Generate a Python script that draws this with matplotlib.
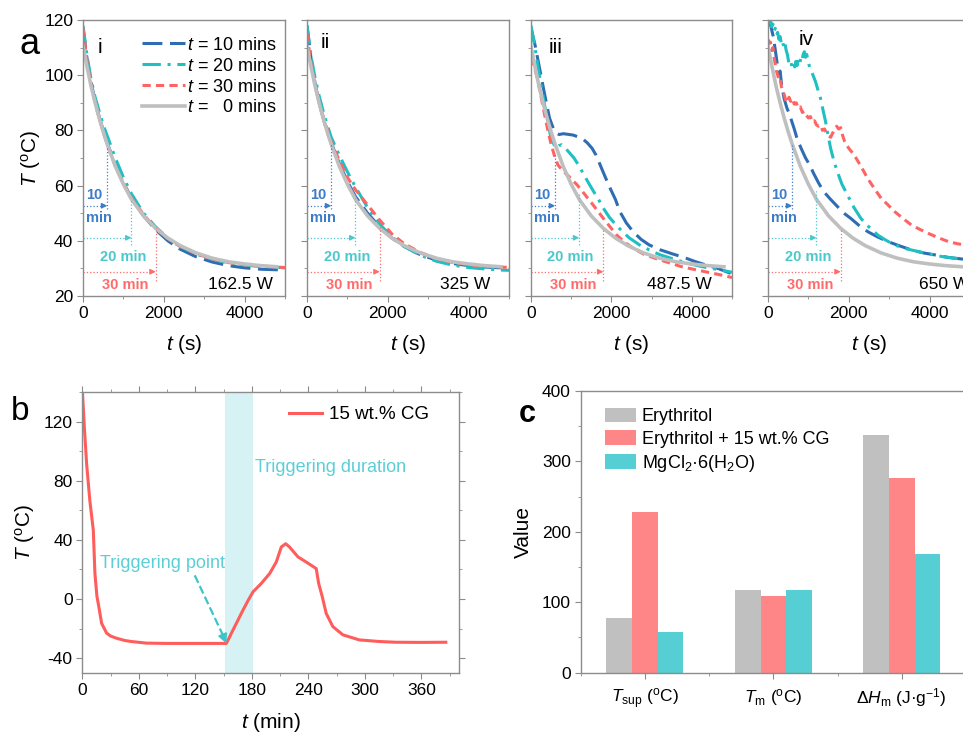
import matplotlib
matplotlib.use("Agg")
import matplotlib.pyplot as plt
from matplotlib.ticker import MultipleLocator
from matplotlib.lines import Line2D

plt.rcParams['font.family'] = ['Liberation Sans', 'DejaVu Sans']
plt.rcParams['mathtext.fontset'] = 'custom'
plt.rcParams['mathtext.rm'] = 'Liberation Sans'
plt.rcParams['mathtext.it'] = 'Liberation Sans:italic'
plt.rcParams['mathtext.bf'] = 'Liberation Sans:bold'
plt.rcParams['axes.unicode_minus'] = False

# ===== colours =====
BLUE = '#2f6db3'
CYAN = '#1fbfc2'
RED = '#ff6464'
GREY = '#bfbfbf'
FRAME = '#8c8c8c'
TXT_BLUE = '#3d7cc9'
TXT_CYAN = '#4cc8cc'
TXT_RED = '#ff6b6b'

# ===== (a) cooling curves, t in s, T in degC =====
grey_t = [0, 100, 200, 300, 400, 500, 600, 800, 1000, 1200, 1500, 1800, 2100, 2400, 2800, 3200, 3600, 4000, 4400, 4800]
grey_T = [110.5, 103, 96, 90, 84.5, 79.5, 75, 67, 60.5, 55, 49, 44.5, 41, 38.3, 35.6, 33.7, 32.4, 31.6, 31, 30.6]

grid_t = [0, 100, 200, 300, 400, 500, 600, 800, 1000, 1200, 1500, 1800, 2100, 2400, 2800, 3200, 3600, 4000, 4400, 4800, 5000]

blue_i = [117, 106, 97.5, 90.5, 85, 80, 75.5, 67.5, 61, 55.5, 49, 44, 40, 37, 34.2, 32.3, 31, 30.2, 29.7, 29.5, 29.5]
cyan_i = [118, 107, 98.5, 92, 87, 82, 78, 70, 63, 57, 50, 45, 41, 38, 35.2, 33.3, 32, 31.2, 30.7, 30.4, 30.2]
red_i = [117, 105, 96.5, 90, 84.5, 79.5, 75, 67, 61, 55.5, 49.5, 44.5, 40.8, 38, 35.3, 33.4, 32.1, 31.3, 30.8, 30.5, 30.3]

blue_ii = [118, 106, 97, 90, 84.5, 79.5, 75.5, 68, 61.5, 56, 50, 45, 41, 38, 35, 33, 31.8, 31, 30.5, 30.2, 30]
cyan_ii = [118, 107, 99, 92.5, 87, 82, 77.5, 71, 65, 59.5, 52, 46, 41.5, 38, 34.8, 32.6, 31.2, 30.3, 29.8, 29.4, 29.3]
red_ii = [115, 104, 96.5, 90, 85, 80.5, 76, 69, 63, 58.5, 53, 47.5, 42.5, 39, 35.8, 33.6, 32.2, 31.3, 30.8, 30.5, 30.3]

blue_iii_t = [0, 100, 180, 260, 340, 460, 560, 630, 700, 800, 910, 1050, 1200, 1280, 1400, 1520, 1620, 1720, 1850, 1970, 2100,
              2210, 2370, 2540, 2740, 2940, 3200, 3510, 3800, 4080, 4400, 4650, 5000]
blue_iii = [117, 111, 105, 99, 93, 84.5, 80.5, 79, 78.5, 78.8, 78.6, 78.3, 77.5, 77, 75.5, 73.5, 71, 67.5, 63, 59, 55,
            50.6, 46.5, 43.3, 40.5, 38.5, 36.8, 35.3, 34, 32.5, 31, 30, 28]
cyan_iii_t = [0, 100, 180, 340, 500, 620, 700, 760, 830, 950, 1070, 1200, 1320, 1450, 1560, 1700, 1800, 1950, 2130, 2300,
              2450, 2700, 2940, 3200, 3500, 3800, 4080, 4400, 4730, 5000]
cyan_iii = [118, 110, 102.5, 89, 77, 73.5, 74.5, 74.8, 74, 72, 70, 67, 63.8, 60.5, 57.8, 54.5, 51.8, 48.5, 45.5, 43,
            41, 38.5, 36.7, 35, 33.6, 32.3, 31.2, 30.2, 29.4, 28.6]
red_iii_t = [0, 100, 180, 260, 340, 420, 500, 580, 670, 780, 910, 1030, 1150, 1300, 1480, 1650, 1800, 1970, 2130, 2330,
             2540, 2800, 3100, 3400, 3750, 4100, 4400, 4700, 5000]
red_iii = [106.5, 102, 97.7, 91.5, 85.6, 80, 75, 71, 67.5, 65.5, 63.8, 62, 60.2, 57.5, 54.2, 51, 48.1, 45, 42.1, 39.5,
           37.3, 35.2, 33.6, 32.2, 30.6, 29.5, 28.6, 27.7, 26.7]

blue_iv_t = [0, 50, 90, 130, 175, 220, 260, 300, 340, 400, 470, 530, 590, 650, 720, 820, 930, 1030, 1130, 1250, 1380,
             1550, 1720, 1880, 2050, 2250, 2470, 2700, 2970, 3250, 3550, 3850, 4130, 4450, 4800, 5000]
blue_iv = [121, 119, 116.5, 114, 109.7, 105, 100.5, 101.5, 96, 91.5, 88, 86, 83.2, 80.5, 77, 73.5, 70, 67.5, 64.4, 61, 57.8,
           55, 52.4, 50, 48.1, 45.6, 43.3, 41.5, 39.7, 38.2, 36.7, 35.6, 34.9, 34, 33.4, 33.1]
cyan_iv_t = [0, 30, 60, 90, 120, 150, 180, 210, 240, 270, 300, 330, 360, 390, 420, 450, 480, 510, 540, 570, 600, 630,
             660, 690, 720, 750, 780, 810, 840, 870, 900, 930, 960, 990, 1020, 1050, 1100, 1175, 1250, 1300, 1360, 1425,
             1490, 1550, 1630, 1717, 1830, 1967, 2130, 2300, 2500, 2717, 2920, 3133, 3400, 3717, 4000, 4300, 4600, 4800, 5000]
cyan_iv = [120.5, 119, 120, 117.5, 118.5, 116, 117, 114.5, 115.5, 113, 114, 111.5, 112.5, 110, 111.5, 109, 107.5, 105,
           103.5, 104.5, 102.5, 104, 103, 105, 103.5, 105.5, 104, 106, 105, 107.5, 108.5, 106.5, 107.5, 105, 103.5, 102,
           100.5, 97.7, 94, 91.6, 87.5, 83.2, 78, 73.5, 69, 65, 60.5, 56.6, 52, 48.1, 45, 42.1, 40.2, 38.5, 37.2, 36.1,
           35.2, 34.3, 33.7, 33.4, 33.2]
red_iv_t = [0, 30, 60, 90, 120, 150, 180, 210, 240, 270, 300, 330, 360, 400, 440, 480, 520, 560, 600, 650, 700, 750, 800,
            850, 900, 950, 1000, 1050, 1100, 1150, 1200, 1250, 1300, 1350, 1400, 1450, 1500, 1550, 1600, 1650, 1700, 1750,
            1800, 1850, 1900, 2000, 2133, 2300, 2467, 2630, 2800, 2970, 3133, 3350, 3550, 3750, 3967, 4200, 4467, 4700,
            4883, 5000]
red_iv = [113, 111.5, 112, 109, 110, 106.5, 104, 101.5, 100, 98.5, 99, 96, 94.5, 93, 91, 90, 92, 90.5, 91.5, 89.5, 90, 88,
          88.5, 86.5, 87, 85.5, 84.5, 85, 83, 83.5, 82, 81.5, 82, 80, 80.5, 79, 78, 77.5, 79, 80.5, 81.5, 80.5, 81, 78,
          75.9, 73.5, 71.1, 67, 62.6, 59, 55.4, 53, 50.6, 48, 45.7, 44.2, 42.7, 41.2, 39.7, 38.9, 38.5, 38.2]

romans = ['i', 'ii', 'iii', 'iv']
powers = ['162.5 W', '325 W', '487.5 W', '650 W']
mark_min = [10, 20, 30]
mark_tops = [[74, 54.8, 45.1], [75.4, 55.5, 45.2], [71, 57.8, 44.5], [74.7, 58.4, 44.5]]
mark_bottoms = [51.5, 38.3, 25.5]
arrow_T = [52.7, 41.1, 28.8]

# ===== (b) 15 wt.% CG cooling / triggering, t in min =====
b_t = [0, 2, 4.6, 8, 11.7, 13.4, 15.5, 17.5, 20.5, 25.8, 30, 36.4, 45, 52, 68, 90, 120, 140, 153, 158, 163.6, 170.7,
       176, 181.3, 190, 199, 206, 211.3, 216, 220, 229, 237.8, 248.4, 251, 254.8, 259, 266, 276.7, 294, 315, 333, 360, 386]
b_T = [142, 118, 91.3, 66.6, 46.4, 17.3, 2, -5, -16.4, -23, -25, -26.5, -28, -28.7, -29.8, -30, -30, -30, -30, -23.5,
       -16.4, -7.4, -1, 4.9, 10.5, 17.3, 25.1, 35.2, 37.4, 35.2, 28.5, 25, 20.6, 10.5, 1.6, -9.7, -18.6, -24.2, -27.6,
       -28.7, -29.2, -29.3, -29.2]
trigger_start, trigger_end = 152, 181
trigger_t, trigger_T = 153, -30

# ===== (c) property comparison =====
props = [r'$T_\mathrm{sup}$ ($^\mathrm{o}$C)', r'$T_\mathrm{m}$ ($^\mathrm{o}$C)', r'Δ$H_\mathrm{m}$ (J·g$^{-1}$)']
materials = ['Erythritol', 'Erythritol + 15 wt.% CG', r'MgCl$_2$·6(H$_2$O)']
erythritol = [78, 118, 337]
erythritol_cg = [228, 109, 277]
mgcl2 = [58, 118, 168]
bar_colors = ['#c0c0c0', '#ff8686', '#56cfd4']

W, H = 963, 735
fig = plt.figure(figsize=(W / 100, H / 100), dpi=100)


def px_axes(left, top, right, bottom):
    return fig.add_axes([left / W, 1 - bottom / H, (right - left) / W, (bottom - top) / H])


def style_frame(ax):
    for s in ax.spines.values():
        s.set_color(FRAME)
        s.set_linewidth(1.0)
    ax.tick_params(which='both', direction='out', color=FRAME, labelsize=12.5, pad=3)
    ax.tick_params(which='major', length=4)
    ax.tick_params(which='minor', length=2.5)


# ---------- panel a ----------
a_boxes = [(83, 285), (307, 509), (531, 732), (768, 970)]
curves = [
    ((grid_t, blue_i), (grid_t, cyan_i), (grid_t, red_i)),
    ((grid_t, blue_ii), (grid_t, cyan_ii), (grid_t, red_ii)),
    ((blue_iii_t, blue_iii), (cyan_iii_t, cyan_iii), (red_iii_t, red_iii)),
    ((blue_iv_t, blue_iv), (cyan_iv_t, cyan_iv), (red_iv_t, red_iv)),
]
roman_xy = [(0.084, 0.902), (0.089, 0.917), (0.12, 0.902), (0.19, 0.928)]
power_x = [0.94, 0.905, 0.9, 0.995]

blue_kw = dict(color=BLUE, lw=2.2, dashes=(6.5, 2.5))
cyan_kw = dict(color=CYAN, lw=2.2, dashes=(6, 2.2, 1, 2.2))
red_kw = dict(color=RED, lw=2.2, dashes=(2.7, 1.7))
grey_kw = dict(color=GREY, lw=2.6)

for k, (l, r) in enumerate(a_boxes):
    ax = px_axes(l, 20, r, 296)
    (bt, bT), (ct, cT), (rt, rT) = curves[k]
    ax.plot(bt, bT, **blue_kw)
    ax.plot(ct, cT, **cyan_kw)
    ax.plot(rt, rT, **red_kw)
    ax.plot(grey_t, grey_T, **grey_kw)

    # elapsed-time markers
    for j, c in enumerate([TXT_BLUE, TXT_CYAN, TXT_RED]):
        tm = mark_min[j] * 60
        ax.plot([tm, tm], [mark_bottoms[j], mark_tops[k][j]], ls=':', lw=0.9, color=c)
        ax.plot([0, tm - 60], [arrow_T[j], arrow_T[j]], ls=':', lw=0.9, color=c)
        ax.annotate('', xy=(tm, arrow_T[j]), xytext=(tm - 120, arrow_T[j]),
                    arrowprops=dict(arrowstyle='-|>', color=c, lw=0.9, mutation_scale=8,
                                    shrinkA=0, shrinkB=0))
    ax.text(290, 56.5, '10', color=TXT_BLUE, fontsize=10.5, fontweight='bold', ha='center', va='center')
    ax.text(390, 48.3, 'min', color=TXT_BLUE, fontsize=10.5, fontweight='bold', ha='center', va='center')
    ax.text(985, 34.3, '20 min', color=TXT_CYAN, fontsize=10.5, fontweight='bold', ha='center', va='center')
    ax.text(1050, 24, '30 min', color=TXT_RED, fontsize=10.5, fontweight='bold', ha='center', va='center')

    ax.text(*roman_xy[k], romans[k], transform=ax.transAxes, fontsize=15, ha='center', va='center')
    ax.text(power_x[k], 0.025, powers[k], transform=ax.transAxes, fontsize=12.5, ha='right', va='baseline')

    ax.set_xlim(0, 5000)
    ax.set_ylim(20, 120)
    ax.xaxis.set_major_locator(MultipleLocator(2000))
    ax.xaxis.set_minor_locator(MultipleLocator(1000))
    ax.yaxis.set_major_locator(MultipleLocator(20))
    ax.yaxis.set_minor_locator(MultipleLocator(10))
    style_frame(ax)
    ax.set_xlabel(r'$t$ (s)', fontsize=15)
    ax.xaxis.set_label_coords(0.5, -0.135)
    if k == 0:
        ax.set_ylabel(r'$T$ ($^\mathrm{o}$C)', fontsize=15)
        ax.yaxis.set_label_coords(-0.2, 0.5)
        handles = [Line2D([], [], **blue_kw), Line2D([], [], **cyan_kw),
                   Line2D([], [], **red_kw), Line2D([], [], **grey_kw)]
        labels = [r'$t$ = 10 mins', r'$t$ = 20 mins', r'$t$ = 30 mins', r'$t$ =   0 mins']
        ax.legend(handles, labels, loc='upper right', frameon=False, fontsize=13,
                  handlelength=2.4, handletextpad=0.1, labelspacing=0.22,
                  borderaxespad=0, borderpad=0, bbox_to_anchor=(0.96, 0.94))
    else:
        ax.tick_params(labelleft=False)

fig.text(30 / W, 1 - 45 / H, 'a', fontsize=26, ha='center', va='center')

# ---------- panel b ----------
axb = px_axes(82.3, 392, 459, 673)
axb.axvspan(trigger_start, trigger_end, color='#d7f2f5', lw=0)
axb.plot(b_t, b_T, color='#ff5c5c', lw=2.2, label='15 wt.% CG')
axb.plot([119.4, trigger_t - 4], [16, trigger_T + 6], ls='--', lw=1.6, color='#3cc4ca')
axb.annotate('', xy=(trigger_t, trigger_T), xytext=(trigger_t - 4, trigger_T + 6),
             arrowprops=dict(arrowstyle='-|>', color='#3cc4ca', lw=1.2, mutation_scale=14,
                             shrinkA=0, shrinkB=0))
axb.text(19, 24, 'Triggering point', color='#5ccfd6', fontsize=13, ha='left', va='center')
axb.text(183, 89, 'Triggering duration', color='#5ccfd6', fontsize=13, ha='left', va='center')
axb.set_xlim(0, 400)
axb.set_ylim(-50, 140)
axb.xaxis.set_major_locator(MultipleLocator(60))
axb.xaxis.set_minor_locator(MultipleLocator(30))
axb.yaxis.set_major_locator(MultipleLocator(40))
axb.yaxis.set_minor_locator(MultipleLocator(20))
style_frame(axb)
axb.tick_params(which='both', top=True, right=True)
axb.set_xlabel(r'$t$ (min)', fontsize=15)
axb.xaxis.set_label_coords(0.5, -0.135)
axb.set_ylabel(r'$T$ ($^\mathrm{o}$C)', fontsize=15)
axb.yaxis.set_label_coords(-0.12, 0.5)
axb.legend(loc='upper right', frameon=False, fontsize=13.5, handlelength=1.8,
           handletextpad=0.35, borderaxespad=0, borderpad=0, bbox_to_anchor=(0.92, 0.95))
fig.text(20 / W, 1 - 412 / H, 'b', fontsize=24, ha='center', va='center')

# ---------- panel c ----------
axc = px_axes(580.7, 391, 966, 672.7)
x = range(len(props))
bw = 0.2
for i, (vals, lab) in enumerate(zip([erythritol, erythritol_cg, mgcl2], materials)):
    axc.bar([p + (i - 1) * bw for p in x], vals, width=bw, color=bar_colors[i], label=lab)
axc.set_xlim(-0.5, 2.5)
axc.set_ylim(0, 400)
axc.set_xticks(list(x))
axc.set_xticklabels(props)
axc.xaxis.set_minor_locator(MultipleLocator(0.5))
axc.yaxis.set_major_locator(MultipleLocator(100))
axc.yaxis.set_minor_locator(MultipleLocator(50))
style_frame(axc)
axc.tick_params(axis='x', which='major', pad=6)
axc.set_ylabel('Value', fontsize=15)
axc.yaxis.set_label_coords(-0.125, 0.5)
axc.legend(loc='upper left', frameon=False, fontsize=13, handlelength=1.75, handleheight=0.85,
           handletextpad=0.3, labelspacing=0.28, borderaxespad=0, borderpad=0,
           bbox_to_anchor=(0.062, 0.94))
fig.text(527 / W, 1 - 414 / H, 'c', fontsize=22, fontweight='bold', ha='center', va='center')

fig.savefig('out.png', dpi=100)
